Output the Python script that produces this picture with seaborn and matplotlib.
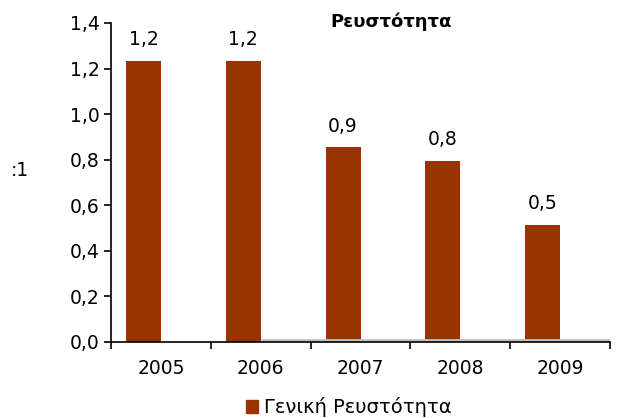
import matplotlib
matplotlib.use("Agg")
import matplotlib.pyplot as plt
import seaborn as sns
import pandas as pd
from matplotlib.ticker import FuncFormatter, FixedLocator
from matplotlib.patches import Patch

years = ["2005", "2006", "2007", "2008", "2009"]
values = [1.235, 1.235, 0.855, 0.795, 0.515]
labels = ["1,2", "1,2", "0,9", "0,8", "0,5"]
series_name = "Γενική Ρευστότητα"
hidden_name = "_"
hidden_values = [0, 0, 0, 0, 0]

sns.set_style("white")
plt.rcParams['font.family'] = ['DejaVu Sans']
plt.rcParams['text.color'] = 'black'
plt.rcParams['xtick.color'] = 'black'
plt.rcParams['ytick.color'] = 'black'
plt.rcParams['axes.labelcolor'] = 'black'

df = pd.DataFrame({
    "year": years * 2,
    "value": values + hidden_values,
    "series": [series_name] * 5 + [hidden_name] * 5,
})

fig = plt.figure(figsize=(6.17, 4.18), dpi=100)
ax = fig.add_axes([0.18, 0.182, 0.8087, 0.763])
bar_color = "#993300"
sns.barplot(data=df, x="year", y="value", hue="series", dodge=True, width=0.7,
            palette=[bar_color, "#c0c0c0"], saturation=1, ax=ax, legend=False,
            linewidth=0, edgecolor="none")

# value labels on first series bars
main_patches = ax.patches[:5]
for p, lab in zip(main_patches, labels):
    ax.text(p.get_x() + p.get_width() / 2, p.get_height() + 0.05, lab,
            ha="center", va="bottom", fontsize=13.5, color="black")

# grey floor line
ax.plot([1.0, 4.5], [0.007, 0.007], color="#c0c0c0", lw=2, zorder=1, solid_capstyle="butt")

ax.set_xlim(-0.5, 4.5)
ax.set_ylim(0, 1.4)
ax.yaxis.set_major_locator(FixedLocator([0, 0.2, 0.4, 0.6, 0.8, 1.0, 1.2, 1.4]))
ax.yaxis.set_major_formatter(FuncFormatter(lambda v, p: f"{v:.1f}".replace(".", ",")))
ax.xaxis.set_minor_locator(FixedLocator([-0.5, 0.5, 1.5, 2.5, 3.5, 4.5]))
ax.tick_params(axis="x", which="major", bottom=False, length=0, labelsize=13.5, pad=12, labelcolor="black")
ax.tick_params(axis="x", which="minor", bottom=True, length=5, width=1.2, direction="out", color="black")
ax.tick_params(axis="y", which="major", left=True, length=5, width=1.2, direction="out", labelsize=13.5, pad=3, color="black", labelcolor="black")
for s in ["top", "right"]:
    ax.spines[s].set_visible(False)
for s in ["left", "bottom"]:
    ax.spines[s].set_color("black")
    ax.spines[s].set_linewidth(1.2)
ax.set_xlabel("")
ax.set_ylabel(":1", rotation=0, fontsize=13.5, labelpad=0, color="black")
ax.yaxis.set_label_coords(-0.183, 0.508)

fig.text(0.634, 0.947, "Ρευστότητα", ha="center", va="center", fontsize=13, fontweight="bold", color="black")

fig.legend(handles=[Patch(color=bar_color, label=series_name)], loc="center",
           bbox_to_anchor=(0.565, 0.026), frameon=False, fontsize=14,
           handlelength=0.65, handleheight=0.65, handletextpad=0.3, labelcolor="black")

fig.savefig("out.png", dpi=100)
